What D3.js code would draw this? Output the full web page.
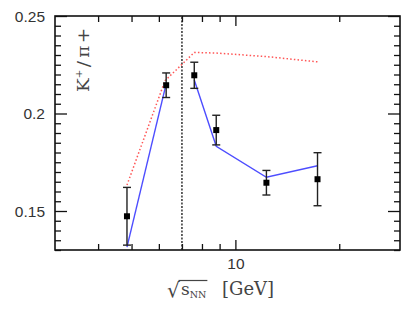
<!DOCTYPE html>
<html>
<head>
<meta charset="utf-8">
<script src="https://cdn.jsdelivr.net/npm/d3@7"></script>
<style>
  body { margin: 0; background: #fff; }
  svg { display: block; }
  .tick text { font-family: "Liberation Sans", Arial, sans-serif; }
</style>
</head>
<body>
<svg id="chart" width="415" height="312"></svg>
<script>
// sqrt(s_NN) of the measurements
var energies = [4.85, 6.3, 7.6, 8.8, 12.3, 17.3];
var ratio = [0.1473, 0.2145, 0.2196, 0.1915, 0.1645, 0.1663];
var ratioErr = [0.0148, 0.0063, 0.0067, 0.0076, 0.0063, 0.0136];

// model curves
var blueLow = [[4.85, 0.1315], [6.3, 0.2152]];
var blueHigh = [[7.6, 0.2172], [8.8, 0.1832], [12.3, 0.1673], [17.3, 0.1732]];
var redCurve = [[4.85, 0.1633], [6.25, 0.2168], [7.6, 0.2313], [8.8, 0.231], [12.3, 0.2292], [17.3, 0.2265]];

var transitionAt = 7.0;

var yMajor = [0.15, 0.2, 0.25];
var xMajor = [10];
var xMinor = [4, 5, 6, 7, 8, 9, 20];

var width = 415, height = 312;
var margin = {left: 55, right: 15, top: 16, bottom: 62};

var svg = d3.select("#chart");

var x = d3.scaleLog().domain([3, 30]).range([margin.left, width - margin.right]);
var y = d3.scaleLinear().domain([0.13, 0.25]).range([height - margin.bottom, margin.top]);

var yMinor = d3.range(0.13, 0.2501, 0.005).filter(function(v){
    return !yMajor.some(function(m){ return Math.abs(m - v) < 1e-6; });
});

function styleAxis(g){
    g.select(".domain").remove();
    g.selectAll(".tick line").attr("stroke", "#111").attr("stroke-width", 1.3);
}

// left axis
svg.append("g")
   .attr("transform", "translate(" + margin.left + ",0)")
   .call(d3.axisLeft(y).tickValues(yMajor).tickSize(-12).tickPadding(10).tickFormat(function(d){ return String(d); }))
   .call(styleAxis)
   .selectAll("text").attr("font-size", 15.5).attr("fill", "#333").attr("dy", "0.35em");
svg.append("g")
   .attr("transform", "translate(" + margin.left + ",0)")
   .call(d3.axisLeft(y).tickValues(yMinor).tickSize(-6).tickFormat(""))
   .call(styleAxis);

// right axis
svg.append("g")
   .attr("transform", "translate(" + (width - margin.right) + ",0)")
   .call(d3.axisRight(y).tickValues(yMajor).tickSize(-12).tickFormat(""))
   .call(styleAxis);
svg.append("g")
   .attr("transform", "translate(" + (width - margin.right) + ",0)")
   .call(d3.axisRight(y).tickValues(yMinor).tickSize(-6).tickFormat(""))
   .call(styleAxis);

// bottom axis
svg.append("g")
   .attr("transform", "translate(0," + (height - margin.bottom) + ")")
   .call(d3.axisBottom(x).tickValues(xMajor).tickSize(-10).tickPadding(8).tickFormat(d3.format("d")))
   .call(styleAxis)
   .selectAll("text").attr("font-size", 15.5).attr("fill", "#333");
svg.append("g")
   .attr("transform", "translate(0," + (height - margin.bottom) + ")")
   .call(d3.axisBottom(x).tickValues(xMinor).tickSize(-6).tickFormat(""))
   .call(styleAxis);

// top axis
svg.append("g")
   .attr("transform", "translate(0," + margin.top + ")")
   .call(d3.axisTop(x).tickValues(xMajor).tickSize(-10).tickFormat(""))
   .call(styleAxis);
svg.append("g")
   .attr("transform", "translate(0," + margin.top + ")")
   .call(d3.axisTop(x).tickValues(xMinor).tickSize(-6).tickFormat(""))
   .call(styleAxis);

// frame
svg.append("rect")
   .attr("x", margin.left).attr("y", margin.top)
   .attr("width", width - margin.left - margin.right)
   .attr("height", height - margin.top - margin.bottom)
   .attr("fill", "none").attr("stroke", "#111").attr("stroke-width", 1.6);

// transition line
svg.append("line")
   .attr("x1", x(transitionAt)).attr("x2", x(transitionAt))
   .attr("y1", y(0.13)).attr("y2", y(0.25))
   .attr("stroke", "#222").attr("stroke-width", 1.4)
   .attr("stroke-dasharray", "2,1.5");

var line = d3.line().x(function(d){ return x(d[0]); }).y(function(d){ return y(d[1]); });

svg.append("path").datum(redCurve)
   .attr("d", line).attr("fill", "none")
   .attr("stroke", "#ff5555").attr("stroke-width", 1.5)
   .attr("stroke-dasharray", "1.5,2.2");

[blueLow, blueHigh].forEach(function(seg){
    svg.append("path").datum(seg)
       .attr("d", line).attr("fill", "none")
       .attr("stroke", "#4d4dff").attr("stroke-width", 1.4);
});

// error bars
var pts = energies.map(function(e, i){ return {e: e, v: ratio[i], err: ratioErr[i]}; });
var eb = svg.append("g").attr("stroke", "#222").attr("stroke-width", 1.4);
eb.selectAll(".bar").data(pts).enter().append("line")
  .attr("x1", function(d){ return x(d.e); }).attr("x2", function(d){ return x(d.e); })
  .attr("y1", function(d){ return y(d.v - d.err); }).attr("y2", function(d){ return y(d.v + d.err); });
eb.selectAll(".capTop").data(pts).enter().append("line")
  .attr("x1", function(d){ return x(d.e) - 4; }).attr("x2", function(d){ return x(d.e) + 4; })
  .attr("y1", function(d){ return y(d.v + d.err); }).attr("y2", function(d){ return y(d.v + d.err); });
eb.selectAll(".capBot").data(pts).enter().append("line")
  .attr("x1", function(d){ return x(d.e) - 4; }).attr("x2", function(d){ return x(d.e) + 4; })
  .attr("y1", function(d){ return y(d.v - d.err); }).attr("y2", function(d){ return y(d.v - d.err); });

svg.selectAll(".pt").data(pts).enter().append("rect")
   .attr("x", function(d){ return x(d.e) - 3; })
   .attr("y", function(d){ return y(d.v) - 3; })
   .attr("width", 6).attr("height", 6).attr("fill", "#000");

var serif = "'DejaVu Serif', 'Liberation Serif', serif";

// y label
var yl = svg.append("text")
   .attr("transform", "translate(88.5,60) rotate(-90) scale(1.15,1)")
   .attr("text-anchor", "middle")
   .attr("font-family", serif)
   .attr("font-size", 16).attr("fill", "#444");
yl.append("tspan").text("K");
yl.append("tspan").attr("font-size", 9).attr("dy", -7).text("+");
yl.append("tspan").attr("dy", 7).attr("dx", 2).text("/");
yl.append("tspan").attr("dx", 3).text("π");
yl.append("tspan").attr("dx", 2).text("+");

// x label
var xl = svg.append("g").attr("fill", "#444").attr("font-family", serif);
var rad = xl.append("text").attr("x", 167).attr("y", 297)
   .attr("font-size", 20).text("√");
var radBox = rad.node().getBBox();
var sx = xl.append("text").attr("x", radBox.x + radBox.width + 1).attr("y", 295)
   .attr("font-size", 17);
sx.append("tspan").text("s");
sx.append("tspan").attr("font-size", 9.5).attr("dy", 3).text("NN");
var sBox = sx.node().getBBox();
xl.append("line")
  .attr("x1", radBox.x + radBox.width - 1.5).attr("x2", sBox.x + sBox.width + 1)
  .attr("y1", 280.5).attr("y2", 280.5)
  .attr("stroke", "#444").attr("stroke-width", 1.2);
xl.append("text").attr("x", 222).attr("y", 295)
  .attr("font-size", 18).text("[GeV]");
</script>
</body>
</html>
